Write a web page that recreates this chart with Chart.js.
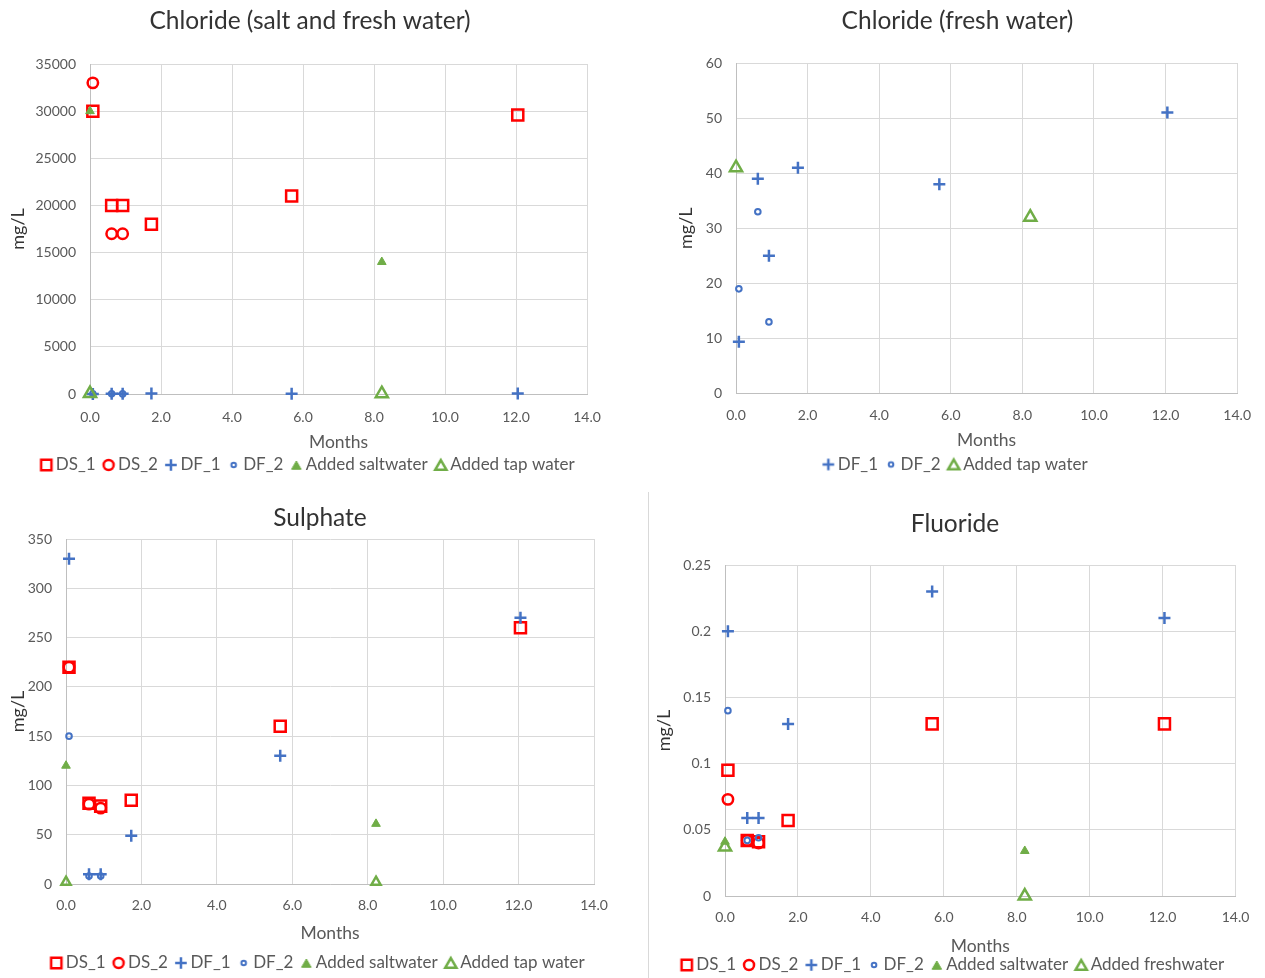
<!DOCTYPE html>
<html><head><meta charset="utf-8">
<script src="https://cdn.jsdelivr.net/npm/chart.js@4.4.1/dist/chart.umd.min.js"></script>
<style>
html,body{margin:0;padding:0;background:#fff;}
body{width:1265px;height:978px;position:relative;overflow:hidden;}
.box{position:absolute;}
.sep{position:absolute;left:648px;top:492px;width:0;height:486px;border-left:1px solid #D9D9D9;}
</style></head><body>
<div class="box" style="left:0;top:0;"><canvas id="c1" width="620" height="485"></canvas></div>
<div class="box" style="left:650px;top:0;"><canvas id="c2" width="615" height="485"></canvas></div>
<div class="box" style="left:0;top:490px;"><canvas id="c3" width="640" height="488"></canvas></div>
<div class="sep"></div>
<div class="box" style="left:648px;top:492px;"><canvas id="c4" width="614" height="486"></canvas></div>
<script>
// ---- data ----
const MONTHS = [0.08, 0.61, 0.92, 1.73, 5.68, 12.05];
const MONTHS_EARLY = [0.08, 0.61, 0.92];
const ADDED_MONTHS = [0, 8.22];

// Chloride (salt and fresh water)
const clDS1 = [30000, 20000, 20000, 18000, 21000, 29600];
const clDS2 = [33000, 17000, 17000];
const clDF1 = [9.4, 39, 25, 41, 38, 51];
const clDF2 = [19, 33, 13];
const clSalt = [30000, 14000];
const clTap = [41, 32];

// Sulphate
const so4DS1 = [220, 82, 79, 85, 160, 260];
const so4DS2 = [220, 81, 77];
const so4DF1 = [330, 10, 10, 49, 130, 270];
const so4DF2 = [150, 8, 8];
const so4Salt = [120, 61];
const so4Tap = [2, 2];

// Fluoride
const fDS1 = [0.095, 0.042, 0.041, 0.057, 0.13, 0.13];
const fDS2 = [0.073, 0.042, 0.040];
const fDF1 = [0.2, 0.059, 0.059, 0.13, 0.23, 0.21];
const fDF2 = [0.14, 0.042, 0.044];
const fSalt = [0.041, 0.034];
const fFresh = [0.037, 0];

const X_TICKS = [0, 2, 4, 6, 8, 10, 12, 14];

// ---- styles ----
const FONT = 'Lato, "Open Sans", sans-serif';
const RED = '#FF0000', BLUE = '#4472C4', GREEN = '#70AD47';
const NOFILL = 'rgba(0,0,0,0)';
const STY = {
  DS1: {pointStyle: 'rect', r: 7.8, bw: 2.5, c: RED, bg: NOFILL},
  DS2: {pointStyle: 'circle', r: 5.2, bw: 2.5, c: RED, bg: NOFILL},
  DF1: {pointStyle: 'cross', r: 6, bw: 2.5, c: BLUE, bg: NOFILL},
  DF2: {pointStyle: 'circle', r: 2.8, bw: 2, c: BLUE, bg: NOFILL},
  SALT: {pointStyle: 'triangle', r: 5, bw: 1, c: GREEN, bg: GREEN},
  TAP: {pointStyle: 'triangle', r: 7, bw: 2.5, c: GREEN, bg: NOFILL}
};

function pts(xs, ys) { return ys.map((y, i) => ({x: xs[i], y: y})); }

function ds(label, key, xs, ys, rOverride) {
  const s = STY[key];
  const r = rOverride || s.r;
  return {
    label: label, data: pts(xs, ys), showLine: false, clip: false,
    pointStyle: s.pointStyle, pointRadius: r, pointHoverRadius: r,
    pointBorderWidth: s.bw, pointBorderColor: s.c, pointBackgroundColor: s.bg,
    borderColor: s.c, backgroundColor: s.bg, _key: key
  };
}

function markerImage(key) {
  const s = STY[key];
  const legendR = {DS1: 7.3, DS2: 5, DF1: 5.8, DF2: 2.3, SALT: 5.5, TAP: 6.5}[key];
  const size = 20;
  const cv = document.createElement('canvas');
  cv.width = size; cv.height = size;
  const g = cv.getContext('2d');
  const cx = size / 2, cy = size / 2, r = legendR;
  g.strokeStyle = s.c; g.fillStyle = s.bg; g.lineWidth = s.bw;
  g.beginPath();
  if (s.pointStyle === 'rect') {
    const h = Math.SQRT1_2 * r; g.rect(cx - h, cy - h, 2 * h, 2 * h);
  } else if (s.pointStyle === 'circle') {
    g.arc(cx, cy, r, 0, Math.PI * 2);
  } else if (s.pointStyle === 'cross') {
    g.moveTo(cx, cy - r); g.lineTo(cx, cy + r); g.moveTo(cx - r, cy); g.lineTo(cx + r, cy);
  } else if (s.pointStyle === 'triangle') {
    const a = -Math.PI / 2;
    g.moveTo(cx + Math.cos(a) * r, cy + 1.5 + Math.sin(a) * r);
    g.lineTo(cx + Math.cos(a + 2 * Math.PI / 3) * r, cy + 1.5 + Math.sin(a + 2 * Math.PI / 3) * r);
    g.lineTo(cx + Math.cos(a + 4 * Math.PI / 3) * r, cy + 1.5 + Math.sin(a + 4 * Math.PI / 3) * r);
    g.closePath();
  }
  if (s.bg !== NOFILL) g.fill();
  g.stroke();
  return cv;
}

function makeChart(id, cfg) {
  const datasets = cfg.datasets.map((d, i, arr) => Object.assign(d, {order: arr.length - i}));
  return new Chart(document.getElementById(id), {
    type: 'scatter',
    data: {datasets: datasets},
    options: {
      responsive: false, animation: false, devicePixelRatio: 1,
      layout: {padding: cfg.padding},
      plugins: {
        title: {display: true, text: cfg.title, color: '#333333',
          font: {family: FONT, size: 24.5, weight: 'normal'}, padding: cfg.titlePad},
        legend: {position: 'bottom',
          labels: {usePointStyle: true, boxWidth: 2, boxHeight: 12, padding: 12,
            color: '#595959', font: {family: FONT, size: 17},
            sort: (a, b) => a.datasetIndex - b.datasetIndex,
            generateLabels: (chart) => {
              const items = Chart.defaults.plugins.legend.labels.generateLabels(chart);
              items.forEach(it => { it.pointStyle = markerImage(chart.data.datasets[it.datasetIndex]._key); });
              return items;
            }}},
        tooltip: {enabled: false}
      },
      scales: {
        x: {type: 'linear', min: X_TICKS[0], max: X_TICKS[X_TICKS.length - 1],
          afterBuildTicks: (s) => { s.ticks = X_TICKS.map(v => ({value: v})); },
          ticks: {callback: v => Number(v).toFixed(1), color: '#595959', font: {family: FONT, size: 14},
            padding: cfg.xTickPad, maxRotation: 0, autoSkip: false},
          grid: {color: '#D9D9D9', drawTicks: false},
          border: {color: '#BFBFBF'},
          title: {display: true, text: 'Months', color: '#595959', font: {family: FONT, size: 17.5},
            padding: {top: 0, bottom: cfg.monthsPad}},
          afterFit: (s) => { s.height = cfg.xHeight; }},
        y: {type: 'linear', min: 0, max: cfg.yMax,
          afterBuildTicks: (s) => { s.ticks = cfg.yTicks.map(v => ({value: v})); },
          ticks: {callback: v => String(Math.round(v * 1000) / 1000), color: '#595959',
            font: {family: FONT, size: 14}, padding: 14, autoSkip: false},
          grid: {color: '#D9D9D9', drawTicks: false},
          border: {color: '#BFBFBF'},
          title: {display: true, text: 'mg/L', color: '#333333', font: {family: FONT, size: 18},
            padding: {top: cfg.yTitlePad, bottom: 0}},
          afterFit: (s) => { s.width = cfg.yWidth; }},
        yR: {type: 'linear', position: 'right', display: true,
          grid: {display: false, drawTicks: false}, border: {display: false},
          ticks: {display: false},
          afterFit: (s) => { s.width = cfg.rightSpace; }}
      }
    }
  });
}

makeChart('c1', {
  title: 'Chloride (salt and fresh water)',
  titlePad: {top: 6.3, bottom: 28.3},
  padding: {top: 0, left: 0, right: 0, bottom: 1.5},
  rightSpace: 33,
  xHeight: 50.5, monthsPad: -8, xTickPad: 15,
  yWidth: 90, yTitlePad: 7.2, yMax: 35000,
  yTicks: [0, 5000, 10000, 15000, 20000, 25000, 30000, 35000],
  datasets: [
    ds('DS_1', 'DS1', MONTHS, clDS1),
    ds('DS_2', 'DS2', MONTHS_EARLY, clDS2),
    ds('DF_1', 'DF1', MONTHS, clDF1),
    ds('DF_2', 'DF2', MONTHS_EARLY, clDF2),
    ds('Added saltwater', 'SALT', ADDED_MONTHS, clSalt),
    ds('Added tap water', 'TAP', ADDED_MONTHS, clTap)
  ]
});

makeChart('c2', {
  title: 'Chloride (fresh water)',
  titlePad: {top: 6.3, bottom: 27.3},
  padding: {top: 0, left: 0, right: 0, bottom: 2},
  rightSpace: 25,
  xHeight: 50.5, monthsPad: -7, xTickPad: 14,
  yWidth: 86, yTitlePad: 25.2, yMax: 60,
  yTicks: [0, 10, 20, 30, 40, 50, 60],
  datasets: [
    ds('DF_1', 'DF1', MONTHS, clDF1),
    ds('DF_2', 'DF2', MONTHS_EARLY, clDF2),
    ds('Added tap water', 'TAP', ADDED_MONTHS, clTap)
  ]
});

makeChart('c3', {
  title: 'Sulphate',
  titlePad: {top: 13.3, bottom: 6.3},
  padding: {top: 0, left: 0, right: 0, bottom: -3.5},
  rightSpace: 46,
  xHeight: 58.5, monthsPad: -1, xTickPad: 12.6,
  yWidth: 66, yTitlePad: 7.2, yMax: 350,
  yTicks: [0, 50, 100, 150, 200, 250, 300, 350],
  datasets: [
    ds('DS_1', 'DS1', MONTHS, so4DS1),
    ds('DS_2', 'DS2', MONTHS_EARLY, so4DS2),
    ds('DF_1', 'DF1', MONTHS, so4DF1),
    ds('DF_2', 'DF2', MONTHS_EARLY, so4DF2),
    ds('Added saltwater', 'SALT', ADDED_MONTHS, so4Salt),
    ds('Added tap water', 'TAP', ADDED_MONTHS, so4Tap, 5.3)
  ]
});

makeChart('c4', {
  title: 'Fluoride',
  titlePad: {top: 17.3, bottom: 26.3},
  padding: {top: 0, left: 0, right: 0, bottom: -5.5},
  rightSpace: 26,
  xHeight: 48.5, monthsPad: -12, xTickPad: 12.6,
  yWidth: 77, yTitlePad: 5.2, yMax: 0.25,
  yTicks: [0, 0.05, 0.1, 0.15, 0.2, 0.25],
  datasets: [
    ds('DS_1', 'DS1', MONTHS, fDS1),
    ds('DS_2', 'DS2', MONTHS_EARLY, fDS2),
    ds('DF_1', 'DF1', MONTHS, fDF1),
    ds('DF_2', 'DF2', MONTHS_EARLY, fDF2),
    ds('Added saltwater', 'SALT', ADDED_MONTHS, fSalt),
    ds('Added freshwater', 'TAP', ADDED_MONTHS, fFresh)
  ]
});
</script>
</body></html>
